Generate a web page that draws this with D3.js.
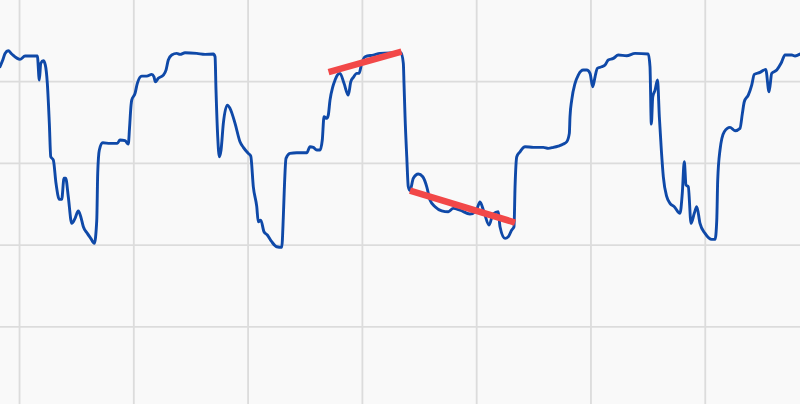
<!DOCTYPE html>
<html>
<head>
<meta charset="utf-8">
<script src="https://cdn.jsdelivr.net/npm/d3@7"></script>
<style>
  html, body { margin: 0; padding: 0; background: #f9f9f9; }
  svg { display: block; }
</style>
</head>
<body>
<svg id="chart" width="800" height="404"></svg>
<script>
// time in minutes (grid every 120), level values (grid every 80)
const seriesX = [-20.5,-17.6,-15.2,-11.8,-8.2,0.5,5.8,12.8,18.7,20.8,22.3,25.0,27.1,29.2,31.3,32.8,35.5,38.3,41.8,44.3,46.7,48.5,51.2,54.8,58.3,61.7,64.3,67.0,71.2,74.8,78.5,81.1,82.1,83.8,87.4,95.0,102.7,105.5,110.8,114.2,115.5,117.1,117.8,121.3,123.7,128.3,133.6,138.8,141.2,142.6,145.7,151.0,153.8,156.2,159.8,165.1,168.5,173.8,186.1,194.8,203.5,205.3,206.3,208.1,209.8,211.6,214.0,218.2,221.0,226.3,231.5,235.0,240.2,242.8,245.5,249.1,250.7,253.3,256.7,260.2,264.8,270.1,275.3,277.0,278.0,279.8,284.0,291.1,301.6,305.0,308.5,312.1,315.5,317.9,319.7,322.6,324.2,326.0,328.9,331.3,333.7,336.5,340.7,345.2,347.8,350.5,354.1,356.5,359.3,362.8,371.5,378.5,392.5,400.6,403.0,403.7,404.8,406.6,408.2,410.0,413.5,418.7,423.4,427.6,431.0,436.3,443.3,450.2,455.4,462.5,473.0,479.3,483.5,487.7,493.0,497.2,502.7,504.5,509.8,513.2,516.8,519.2,520.3,522.1,525.5,530.8,539.5,550.0,555.2,560.5,565.7,571.0,574.6,577.3,578.0,579.8,583.3,586.7,592.0,595.6,599.0,601.9,604.3,606.7,611.3,614.8,618.2,623.5,628.7,637.5,646.3,660.2,662.0,663.4,664.9,667.3,669.9,671.8,673.9,676.0,679.6,683.0,687.5,693.5,695.9,698.0,699.8,702.2,705.1,708.5,711.1,714.5,719.8,726.8,730.3,732.1,733.1,735.5,740.0,746.0,751.3,756.5,759.0,761.0,765.2,768.8,771.5,777.5,783.5,787.0,789.8,795.1,799.6,803.8,810.8,814.3,819.5];
const seriesY = [334.6,341.2,347.7,350.3,347.1,341.9,345.1,345.1,345.1,321.6,338.0,340.5,336.3,318.4,279.2,246.5,243.3,220.5,204.8,204.8,225.4,225.4,207.4,181.3,186.2,193.4,187.8,178.0,171.5,166.6,161.7,184.5,230.3,253.1,260.2,259.6,259.6,262.9,262.2,258.9,274.6,297.1,302.0,308.6,318.4,325.5,325.5,327.2,324.8,319.9,323.3,326.5,331.4,341.2,346.1,347.7,346.8,348.3,347.7,346.8,347.1,344.4,311.8,266.1,246.5,253.1,279.2,297.1,293.9,279.2,261.2,255.7,249.8,247.2,217.1,197.6,182.9,184.5,173.1,169.9,163.3,158.4,157.8,187.8,213.9,244.9,249.8,250.4,250.4,256.3,255.7,253.1,253.1,262.9,285.7,284.1,287.3,302.0,315.0,321.6,326.5,328.2,318.4,306.9,319.9,324.2,328.2,328.2,338.0,344.4,346.1,347.7,348.3,348.5,338.0,318.4,285.7,246.5,217.1,213.4,225.4,229.6,226.9,217.1,204.1,197.6,193.6,192.7,196.0,194.3,190.4,193.4,202.2,192.4,179.6,190.4,192.7,178.0,166.6,168.2,174.8,178.0,217.1,246.5,251.4,256.3,255.7,255.7,254.7,255.7,257.0,258.9,261.2,269.4,285.7,302.0,318.4,326.5,331.4,331.4,328.2,315.0,324.8,333.1,334.6,336.3,341.2,342.8,346.1,345.4,347.7,347.1,334.6,278.5,305.2,311.8,321.6,285.7,253.1,226.9,207.4,200.9,197.6,191.1,210.7,241.6,218.8,217.1,181.3,191.1,197.6,181.3,171.5,165.6,165.6,184.5,223.7,253.1,271.0,275.3,272.0,274.3,289.0,300.4,306.9,316.7,327.2,329.1,332.1,310.1,328.2,331.4,338.0,346.1,346.1,345.1,347.1];

// trend segments drawn over the series
const trendStartX = [324.5, 410.0];
const trendStartY = [329.4, 213.4];
const trendEndX = [401.1, 520.3];
const trendEndY = [349.5, 182.1];

const gridX = [0, 120, 240, 360, 480, 600, 720];
const gridY = [80, 160, 240, 320];

const W = 800, H = 404;
const svg = d3.select("#chart");

const x = d3.scaleLinear().domain([-20.5, 819.5]).range([0, 800]);
const y = d3.scaleLinear().domain([0, 400]).range([408.5, 0]);

svg.append("rect").attr("width", W).attr("height", H).attr("fill", "#f9f9f9");

const grid = svg.append("g").attr("class", "grid");
grid.selectAll("line.v").data(gridX).join("line")
  .attr("class", "v")
  .attr("x1", d => x(d)).attr("x2", d => x(d))
  .attr("y1", 0).attr("y2", H)
  .attr("stroke", "#dcdcdc").attr("stroke-width", 1.8);
grid.selectAll("line.h").data(gridY).join("line")
  .attr("class", "h")
  .attr("x1", 0).attr("x2", W)
  .attr("y1", d => y(d)).attr("y2", d => y(d))
  .attr("stroke", "#dcdcdc").attr("stroke-width", 1.8);

const pts = seriesX.map((d, i) => [d, seriesY[i]]);
const line = d3.line().x(d => x(d[0])).y(d => y(d[1])).curve(d3.curveMonotoneX);

svg.append("path")
  .datum(pts)
  .attr("d", line)
  .attr("fill", "none")
  .attr("stroke", "#0f49a8")
  .attr("stroke-width", 2.9)
  .attr("stroke-linejoin", "round")
  .attr("stroke-linecap", "round");

const trends = trendStartX.map((d, i) => ({x1: d, y1: trendStartY[i], x2: trendEndX[i], y2: trendEndY[i]}));
svg.selectAll("line.trend").data(trends).join("line")
  .attr("class", "trend")
  .attr("x1", d => x(d.x1)).attr("y1", d => y(d.y1))
  .attr("x2", d => x(d.x2)).attr("y2", d => y(d.y2))
  .attr("stroke", "#f24848")
  .attr("stroke-width", 6.5)
  .attr("stroke-linecap", "butt");
</script>
</body>
</html>
